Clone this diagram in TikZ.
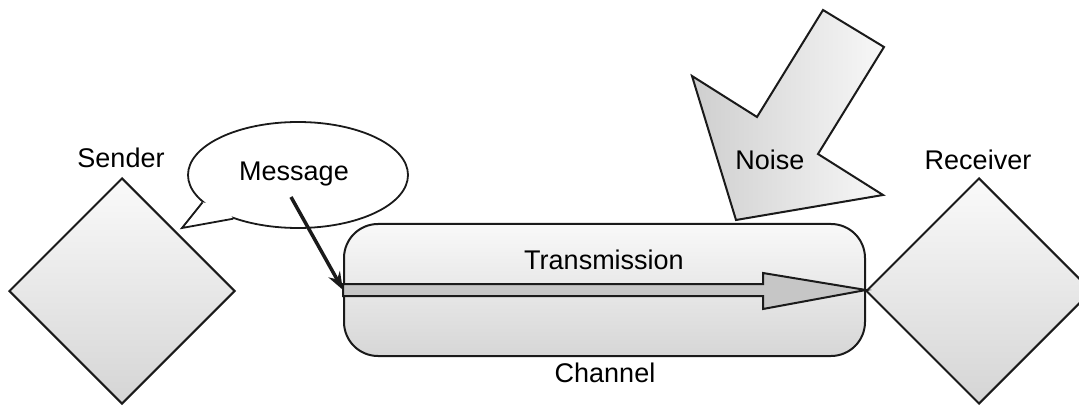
\documentclass[tikz,border=0pt]{standalone}
\usepackage{fontspec}
\setmainfont{Liberation Sans}
\usetikzlibrary{shapes.geometric,arrows.meta,calc}
\definecolor{edge}{HTML}{1A1A1A}
\tikzset{
  lbl/.style={inner sep=0pt, font=\fontsize{27}{30}\selectfont, text=black},
  station/.style={diamond, draw=edge, line width=2pt, inner sep=0pt,
    minimum width=226pt, minimum height=226pt, top color=gray!4, bottom color=gray!33},
  chan/.style={draw=edge, line width=2pt, rounded corners=34pt, inner sep=0pt,
    minimum width=521pt, minimum height=132pt, top color=gray!5, bottom color=gray!32},
  bubble/.style={ellipse, draw=edge, line width=1.8pt, fill=white, inner sep=0pt,
    minimum width=220pt, minimum height=106pt},
  blockarrow/.style={draw=edge, line width=2pt, fill=gray!45, line join=miter},
  noisearrow/.style={draw=edge, line width=2pt, left color=gray!38, right color=gray!6, line join=miter},
}
\begin{document}
\begin{tikzpicture}[x=1pt,y=-1pt]
\useasboundingbox (0,0) rectangle (1079,406);
% stations
\node[station] (sender) at (122,291) {};
\node[station] (receiver) at (979,291) {};
\node[lbl] (senderlbl) at (121,158) {Sender};
\node[lbl] (receiverlbl) at (978,160) {Receiver};
% channel
\node[chan] (channel) at (604.5,290) {};
\node[lbl] (chanlbl) at (605,373) {Channel};
% transmission block arrow
\path (channel.west) ++(0,-6) coordinate (s1) ++(0,12) coordinate (s2);
\draw[blockarrow] (s1) -- (763,284) -- (763,273) -- (channel.east) -- (763,309) -- (763,296) -- (s2) -- cycle;
\node[lbl] (translbl) at (604,260) {Transmission};
% noise arrow
\draw[noisearrow] (823,10) -- (884,47) -- (818,154) -- (883,195) -- (736,220) -- (692,76) -- (757,117) -- cycle;
\node[lbl] (noiselbl) at (770,160) {Noise};
% message bubble
\node[bubble] (msg) at (298,175) {};
\coordinate (tailtip) at (182,228);
\fill[white] (msg.196) -- (tailtip) -- (msg.214) -- ($(msg.214)!0.5!(msg.196)+(6,-6)$) -- cycle;
\draw[edge, line width=1.8pt, line join=miter] (msg.196) -- (tailtip) -- (msg.214);
\node[lbl] (msglbl) at (294,174) {Message};
% message arrow
\coordinate (msgstart) at (291,197);
\draw[edge, line width=3.5pt, -{Stealth[length=18pt,width=13pt]}] (msgstart) -- (channel.west);
\end{tikzpicture}
\end{document}
